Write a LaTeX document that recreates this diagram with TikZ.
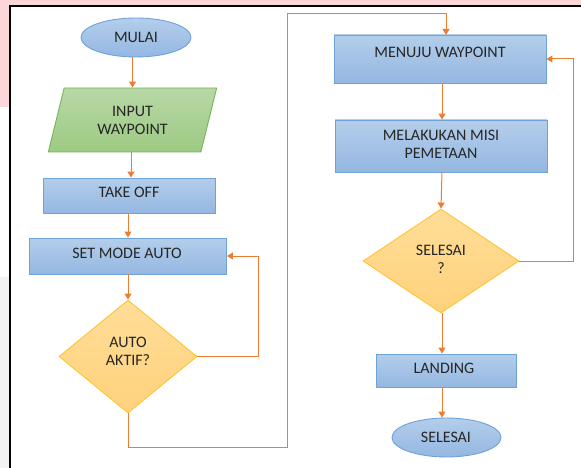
\documentclass[tikz,border=0pt]{standalone}
\usepackage{fontspec}
\setmainfont{Carlito}
\usetikzlibrary{shapes.geometric,arrows.meta,calc}
\definecolor{pinkbg}{HTML}{FDD6D9}
\definecolor{graybg}{HTML}{F2F2F2}
\definecolor{bluetop}{HTML}{B4CEEB}
\definecolor{bluebot}{HTML}{94B7E1}
\definecolor{blueedge}{HTML}{6FA2D8}
\definecolor{greentop}{HTML}{B8D8A6}
\definecolor{greenbot}{HTML}{9DCA83}
\definecolor{greenedge}{HTML}{78B35A}
\definecolor{yeltop}{HTML}{FFDD98}
\definecolor{yelbot}{HTML}{FFD27C}
\definecolor{yeledge}{HTML}{FFC42E}
\definecolor{linecol}{HTML}{ED7D31}
\definecolor{txtcol}{HTML}{262626}
\begin{document}
\begin{tikzpicture}[x=1pt,y=-1pt,
  bluebox/.style={rectangle, draw=blueedge, line width=0.9pt, top color=bluetop, bottom color=bluebot, inner sep=0pt},
  blueoval/.style={ellipse, draw=blueedge, line width=0.9pt, top color=bluetop, bottom color=bluebot, inner sep=0pt},
  iobox/.style={trapezium, trapezium left angle=74, trapezium right angle=106, trapezium stretches=true, draw=greenedge, line width=0.9pt, top color=greentop, bottom color=greenbot, inner sep=0pt},
  decision/.style={diamond, draw=yeledge, line width=0.9pt, top color=yeltop, bottom color=yelbot, inner sep=0pt},
  txt/.style={text=txtcol, font=\fontsize{16}{18}\selectfont, align=center, inner sep=0pt},
  flow/.style={draw=linecol, line width=1pt, -{Triangle[length=6pt,width=7pt]}},
  plain/.style={draw=linecol, line width=1pt}]
\useasboundingbox (0,0) rectangle (581,468);
% background
\fill[pinkbg] (0,0) rectangle (581,6);
\fill[pinkbg] (0,0) rectangle (10,107);
\fill[graybg] (0,277) rectangle (9,468);
\draw[black, line width=2pt] (10,468) -- (10,6) -- (581,6);

% left column
\node[blueoval, minimum width=110pt, minimum height=39pt] (mulai) at (136,37.5) {};
\node[txt] (tmulai) at (136,37) {MULAI};
\node[iobox, txt, minimum width=169pt, minimum height=64pt] (input) at (132.5,120) {INPUT\\WAYPOINT};
\node[bluebox, minimum width=172pt, minimum height=35pt] (takeoff) at (129,195.5) {};
\node[txt] (ttakeoff) at (129,192) {TAKE OFF};
\node[bluebox, minimum width=197pt, minimum height=36pt] (setmode) at (128,256) {};
\node[txt] (tsetmode) at (127,253) {SET MODE AUTO};
\node[decision, minimum width=138pt, minimum height=113pt] (auto) at (128,356.5) {};
\node[txt] (tauto) at (128,351.5) {AUTO\\AKTIF?};

% right column
\node[bluebox, minimum width=212pt, minimum height=48pt] (menuju) at (440,59) {};
\node[txt] (tmenuju) at (440,52) {MENUJU WAYPOINT};
\node[bluebox, minimum width=212pt, minimum height=52pt] (misi) at (441,146) {};
\node[txt] (tmisi) at (441,144) {MELAKUKAN MISI\\PEMETAAN};
\node[decision, minimum width=156pt, minimum height=104pt] (done) at (441,261) {};
\node[txt] (tdone) at (441,259) {SELESAI\\?};
\node[bluebox, minimum width=140pt, minimum height=33pt] (landing) at (446,370.5) {};
\node[txt] (tlanding) at (444,368) {LANDING};
\node[blueoval, minimum width=109pt, minimum height=39pt] (selesai) at (446.5,437.5) {};
\node[txt] (tselesai) at (446,437) {SELESAI};

% connectors left
\draw[flow] (input.north |- mulai.south) -- (input.north);
\draw[flow] ($(takeoff.north |- input.south)+(2,0)$) -- ($(takeoff.north)+(2,0)$);
\draw[flow] (setmode.north |- takeoff.south) -- (setmode.north);
\draw[flow] (setmode.south) -- (auto.north);
\coordinate (loopA) at (258,0);
\draw[flow] (auto.east) -| (loopA |- setmode.east) -- (setmode.east);
% long connector
\coordinate (bendA) at (287,447);
\coordinate (bendB) at (287,14);
\coordinate (menujuIn) at (446,35);
\draw[flow] (auto.south) |- (bendA) -- (bendB) -| (menujuIn);
% connectors right
\draw[flow] ($(menuju.south)+(2,0)$) -- ($(misi.north)+(1,0)$);
\draw[flow] ($(misi.south)+(1,0)$) -- (done.north);
\draw[flow] ($(done.south)+(1,0)$) -- ($(done.south |- landing.north)+(1,0)$);
\draw[flow] ($(done.south |- landing.south)+(1,0)$) -- ($(done.south |- selesai.north)+(1,0)$);
\coordinate (loopB) at (573,0);
\draw[flow] (done.east) -| (loopB |- menuju.east) -- (menuju.east);
\end{tikzpicture}
\end{document}
